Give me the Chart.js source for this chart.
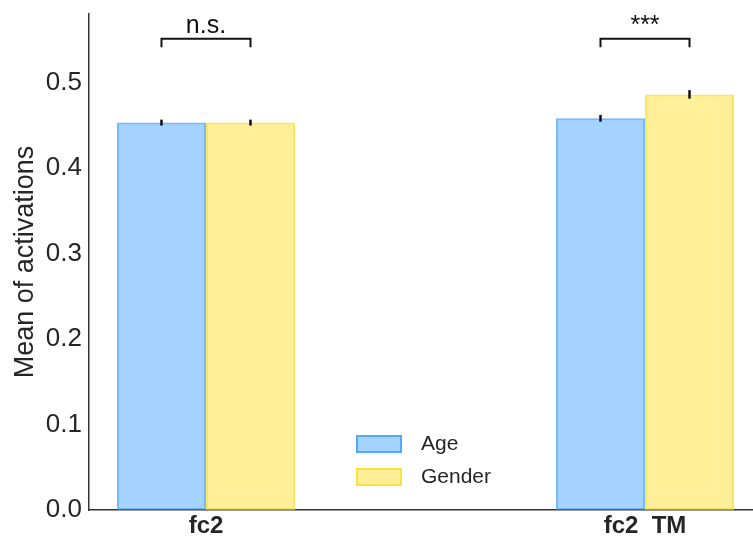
<!DOCTYPE html>
<html>
<head>
<meta charset="utf-8">
<script src="https://cdn.jsdelivr.net/npm/chart.js@4"></script>
<style>
  html, body { margin: 0; padding: 0; background: #ffffff; }
  canvas { display: block; }
</style>
</head>
<body>
<canvas id="chart" width="753" height="538"></canvas>
<script>
// Layer groups and the two label series
const categories = ['fc2', 'fc2  TM'];
const seriesNames = ['Age', 'Gender'];

// Mean activation per layer group, with error half-widths
const ageMeans = [0.453, 0.458];
const genderMeans = [0.453, 0.486];
const ageErrors = [0.0035, 0.004];
const genderErrors = [0.0035, 0.005];

// Significance marks drawn above each pair
const significance = ['n.s.', '***'];

// Value axis ticks
const yTicks = [0.0, 0.1, 0.2, 0.3, 0.4, 0.5];

const TEXT = '#262626';
const FONT = "'Liberation Sans', Arial, Helvetica, sans-serif";

const colors = {
  Age:    { fill: 'rgba(30,144,255,0.4)', edge: 'rgba(30,144,255,0.62)' },
  Gender: { fill: 'rgba(255,215,0,0.4)',  edge: 'rgba(255,215,0,0.62)' }
};

const seriesMeans = [ageMeans, genderMeans];
const seriesErrors = [ageErrors, genderErrors];

const datasets = seriesNames.map((name, s) => ({
  label: name,
  data: seriesMeans[s].map((v, i) => ({ x: i, y: v })),
  backgroundColor: colors[name].fill,
  borderColor: colors[name].edge,
  borderWidth: 2,
  borderSkipped: false,
  categoryPercentage: 0.4055,
  barPercentage: 1.0
}));

// Vertical error lines at each bar centre
const errorBars = {
  id: 'errorBars',
  afterDatasetsDraw(chart) {
    const { ctx, scales: { y } } = chart;
    ctx.save();
    ctx.strokeStyle = '#111111';
    ctx.lineWidth = 2.5;
    chart.data.datasets.forEach((ds, s) => {
      const meta = chart.getDatasetMeta(s);
      meta.data.forEach((bar, i) => {
        const v = ds.data[i].y;
        const e = seriesErrors[s][i];
        ctx.beginPath();
        ctx.moveTo(bar.x, y.getPixelForValue(v + e));
        ctx.lineTo(bar.x, y.getPixelForValue(v - e));
        ctx.stroke();
      });
    });
    ctx.restore();
  }
};

// Brackets with significance text over each pair of bars
const brackets = {
  id: 'brackets',
  afterDatasetsDraw(chart) {
    const { ctx, scales: { y } } = chart;
    let top = 0;
    seriesMeans.forEach((arr, s) => arr.forEach((v, i) => {
      top = Math.max(top, v + seriesErrors[s][i]);
    }));
    const level = top + 0.06;
    const drop = 0.01;
    const yTop = y.getPixelForValue(level);
    const yLow = y.getPixelForValue(level - drop);
    const a = chart.getDatasetMeta(0).data;
    const b = chart.getDatasetMeta(1).data;
    ctx.save();
    ctx.strokeStyle = '#111111';
    ctx.lineWidth = 2;
    ctx.fillStyle = '#111111';
    ctx.font = '25px ' + FONT;
    ctx.textAlign = 'center';
    ctx.textBaseline = 'alphabetic';
    categories.forEach((_, i) => {
      const x1 = a[i].x, x2 = b[i].x;
      ctx.beginPath();
      ctx.moveTo(x1, yLow);
      ctx.lineTo(x1, yTop);
      ctx.lineTo(x2, yTop);
      ctx.lineTo(x2, yLow);
      ctx.stroke();
      ctx.fillText(significance[i], (x1 + x2) / 2, yTop - 6);
    });
    ctx.restore();
  }
};

// Legend inside the plot area, built from the datasets
const innerLegend = {
  id: 'innerLegend',
  afterDraw(chart) {
    const { ctx } = chart;
    const x0 = 356, y0 = 435, boxW = 46, boxH = 18, rowGap = 33;
    ctx.save();
    ctx.font = '21px ' + FONT;
    ctx.textBaseline = 'middle';
    ctx.textAlign = 'left';
    chart.data.datasets.forEach((ds, s) => {
      const yy = y0 + s * rowGap;
      ctx.fillStyle = ds.backgroundColor;
      ctx.fillRect(x0, yy, boxW, boxH);
      ctx.strokeStyle = ds.borderColor;
      ctx.lineWidth = 2;
      ctx.strokeRect(x0 + 1, yy + 1, boxW - 2, boxH - 2);
      ctx.fillStyle = TEXT;
      ctx.fillText(ds.label, 421, yy + boxH / 2);
    });
    ctx.restore();
  }
};

new Chart(document.getElementById('chart'), {
  type: 'bar',
  data: { datasets },
  options: {
    responsive: false,
    devicePixelRatio: 1,
    animation: false,
    layout: { padding: { top: 14, right: 0, bottom: 0, left: 0 } },
    plugins: {
      legend: { display: false },
      tooltip: { enabled: false }
    },
    scales: {
      x: {
        type: 'linear',
        offset: false,
        min: -0.2665,
        max: 1.246,
        grid: { display: false, drawTicks: false, offset: false },
        border: { display: true, color: '#333333', width: 1.5 },
        afterBuildTicks(axis) {
          axis.ticks = categories.map((_, i) => ({ value: i }));
        },
        afterFit(axis) {
          axis.height = 28;
          axis.paddingLeft = 0;
          axis.paddingRight = 0;
        },
        ticks: {
          autoSkip: false,
          maxRotation: 0,
          padding: 2,
          color: TEXT,
          font: { family: FONT, size: 24, weight: 'bold' },
          callback: (v) => categories[v] ?? ''
        }
      },
      y: {
        min: 0,
        max: 0.58,
        grid: { display: false, drawTicks: false },
        border: { display: true, color: '#333333', width: 1.5 },
        afterBuildTicks(axis) {
          axis.ticks = yTicks.map(v => ({ value: v }));
        },
        afterFit(axis) {
          axis.width = 89;
          axis.paddingTop = 0;
          axis.paddingBottom = 0;
        },
        ticks: {
          padding: 7,
          color: TEXT,
          font: { family: FONT, size: 26 },
          callback: (v) => Number(v).toFixed(1)
        },
        title: {
          display: true,
          text: 'Mean of activations',
          color: TEXT,
          font: { family: FONT, size: 27 },
          padding: { top: 9, bottom: 0 }
        }
      }
    }
  },
  plugins: [errorBars, brackets, innerLegend]
});
</script>
</body>
</html>
